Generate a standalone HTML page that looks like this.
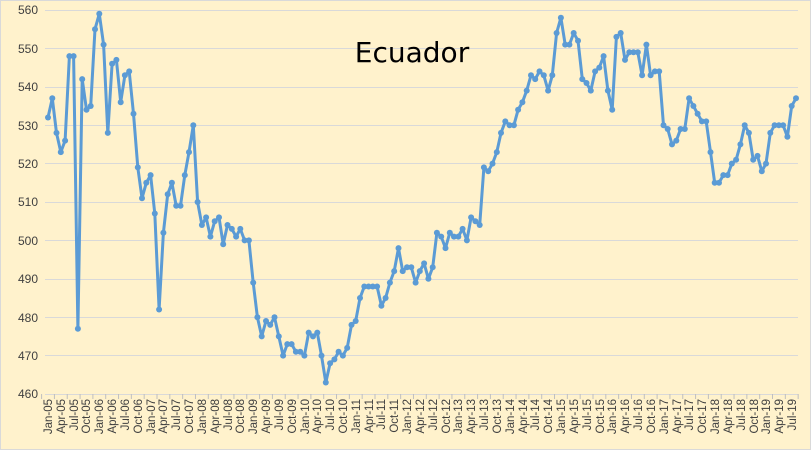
<!DOCTYPE html>
<html><head><meta charset="utf-8"><style>
html,body{margin:0;padding:0;background:#fff2cc;}
svg{display:block;}
text{font-family:"Liberation Sans",sans-serif;}
</style></head><body>
<svg id="c" width="811" height="450" xmlns="http://www.w3.org/2000/svg">
<rect x="0.5" y="0.5" width="810" height="449" fill="#fff2cc" stroke="#d9d9d9"/>
<g stroke="#d9d9d9" stroke-width="1">
<line x1="45" x2="798" y1="10.5" y2="10.5"/><line x1="45" x2="798" y1="48.5" y2="48.5"/>
<line x1="45" x2="798" y1="87.5" y2="87.5"/><line x1="45" x2="798" y1="125.5" y2="125.5"/>
<line x1="45" x2="798" y1="163.5" y2="163.5"/><line x1="45" x2="798" y1="202.5" y2="202.5"/>
<line x1="45" x2="798" y1="240.5" y2="240.5"/><line x1="45" x2="798" y1="279.5" y2="279.5"/>
<line x1="45" x2="798" y1="317.5" y2="317.5"/><line x1="45" x2="798" y1="355.5" y2="355.5"/>
<line x1="45" x2="798" y1="394.5" y2="394.5"/>
</g>
<g font-size="12" fill="#404040" text-anchor="end">
<text x="38" y="14">560</text><text x="38" y="53">550</text><text x="38" y="91">540</text>
<text x="38" y="130">530</text><text x="38" y="168">520</text><text x="38" y="206">510</text>
<text x="38" y="245">500</text><text x="38" y="283">490</text><text x="38" y="322">480</text>
<text x="38" y="360">470</text><text x="38" y="398">460</text>
</g>
<text x="412" y="62" font-size="28" text-anchor="middle" fill="#000" style="font-family:'DejaVu Sans','Liberation Sans',sans-serif">Ecuador</text>
<g id="xl" font-size="11.5" fill="#404040" text-anchor="end" transform="rotate(-90)">
<text x="-399" y="52">Jan-05</text><text x="-399" y="65">Apr-05</text><text x="-399" y="78">Jul-05</text><text x="-399" y="90">Oct-05</text>
<text x="-399" y="103">Jan-06</text><text x="-399" y="116">Apr-06</text><text x="-399" y="129">Jul-06</text><text x="-399" y="142">Oct-06</text>
<text x="-399" y="155">Jan-07</text><text x="-399" y="167">Apr-07</text><text x="-399" y="180">Jul-07</text><text x="-399" y="193">Oct-07</text>
<text x="-399" y="206">Jan-08</text><text x="-399" y="219">Apr-08</text><text x="-399" y="232">Jul-08</text><text x="-399" y="244">Oct-08</text>
<text x="-399" y="257">Jan-09</text><text x="-399" y="270">Apr-09</text><text x="-399" y="283">Jul-09</text><text x="-399" y="296">Oct-09</text>
<text x="-399" y="309">Jan-10</text><text x="-399" y="321">Apr-10</text><text x="-399" y="334">Jul-10</text><text x="-399" y="347">Oct-10</text>
<text x="-399" y="360">Jan-11</text><text x="-399" y="373">Apr-11</text><text x="-399" y="385">Jul-11</text><text x="-399" y="398">Oct-11</text>
<text x="-399" y="411">Jan-12</text><text x="-399" y="424">Apr-12</text><text x="-399" y="437">Jul-12</text><text x="-399" y="450">Oct-12</text>
<text x="-399" y="462">Jan-13</text><text x="-399" y="475">Apr-13</text><text x="-399" y="488">Jul-13</text><text x="-399" y="501">Oct-13</text>
<text x="-399" y="514">Jan-14</text><text x="-399" y="527">Apr-14</text><text x="-399" y="539">Jul-14</text><text x="-399" y="552">Oct-14</text>
<text x="-399" y="565">Jan-15</text><text x="-399" y="578">Apr-15</text><text x="-399" y="591">Jul-15</text><text x="-399" y="604">Oct-15</text>
<text x="-399" y="616">Jan-16</text><text x="-399" y="629">Apr-16</text><text x="-399" y="642">Jul-16</text><text x="-399" y="655">Oct-16</text>
<text x="-399" y="668">Jan-17</text><text x="-399" y="681">Apr-17</text><text x="-399" y="693">Jul-17</text><text x="-399" y="706">Oct-17</text>
<text x="-399" y="719">Jan-18</text><text x="-399" y="732">Apr-18</text><text x="-399" y="745">Jul-18</text><text x="-399" y="758">Oct-18</text>
<text x="-399" y="770">Jan-19</text><text x="-399" y="783">Apr-19</text><text x="-399" y="796">Jul-19</text>
</g>
<g id="series"></g>
</svg>
<script>
var d=[532,537,528,523,526,548,548,477,542,534,535,555,
559,551,528,546,547,536,543,544,533,519,511,515,
517,507,482,502,512,515,509,509,517,523,530,510,
504,506,501,505,506,499,504,503,501,503,500,500,
489,480,475,479,478,480,475,470,473,473,471,471,
470,476,475,476,470,463,468,469,471,470,472,478,
479,485,488,488,488,488,483,485,489,492,498,492,
493,493,489,492,494,490,493,502,501,498,502,501,
501,503,500,506,505,504,519,518,520,523,528,531,
530,530,534,536,539,543,542,544,543,539,543,554,
558,551,551,554,552,542,541,539,544,545,548,539,
534,553,554,547,549,549,549,543,551,543,544,544,
530,529,525,526,529,529,537,535,533,531,531,523,
515,515,517,517,520,521,525,530,528,521,522,518,
520,528,530,530,530,527,535,537];
var ns="http://www.w3.org/2000/svg",g=document.getElementById("series"),pts=[];
var tk=document.createElementNS(ns,"g");tk.setAttribute("stroke","#bfbfbf");
for(var i=0;i<=59;i++){var x=48+i*12.823-6.4;var l=document.createElementNS(ns,"line");l.setAttribute("x1",x);l.setAttribute("x2",x);l.setAttribute("y1",394);l.setAttribute("y2",399);tk.appendChild(l);}
g.appendChild(tk);
for(var i=0;i<d.length;i++){var x=48+i*4.274,y=394-(d[i]-460)*3.84;pts.push(x.toFixed(1)+","+y.toFixed(1));}
var pl=document.createElementNS(ns,"polyline");pl.setAttribute("points",pts.join(" "));pl.setAttribute("fill","none");pl.setAttribute("stroke","#5b9bd5");pl.setAttribute("stroke-width","3");pl.setAttribute("stroke-linejoin","round");g.appendChild(pl);
for(var i=0;i<pts.length;i++){var p=pts[i].split(",");var c=document.createElementNS(ns,"circle");c.setAttribute("cx",p[0]);c.setAttribute("cy",p[1]);c.setAttribute("r","3");c.setAttribute("fill","#5b9bd5");g.appendChild(c);}
</script>
</body></html>
